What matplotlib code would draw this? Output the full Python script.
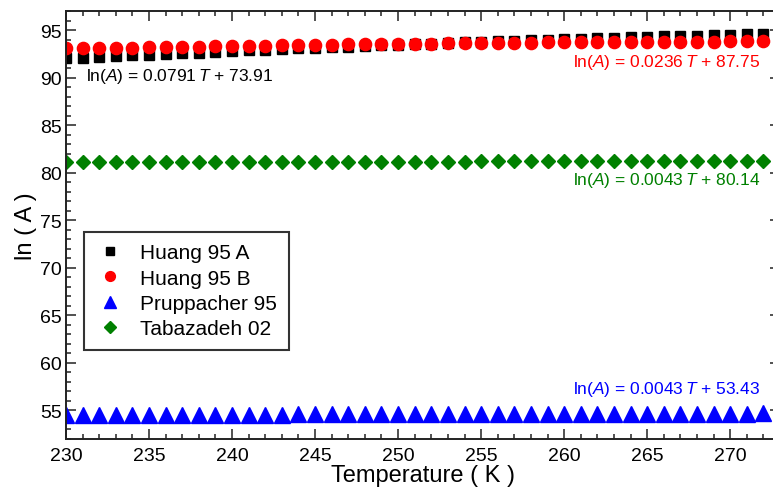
import matplotlib
matplotlib.use("Agg")
import matplotlib.pyplot as plt
from matplotlib.ticker import MultipleLocator

plt.rcParams['font.family'] = ['Liberation Sans', 'DejaVu Sans']
plt.rcParams['mathtext.fontset'] = 'custom'
plt.rcParams['mathtext.rm'] = 'Liberation Sans'
plt.rcParams['mathtext.it'] = 'Liberation Sans:italic'

temperature = list(range(230, 273))

huang_a = [92.03, 92.11, 92.18, 92.26, 92.33, 92.41, 92.48, 92.56, 92.63, 92.70,
           92.78, 92.85, 92.92, 92.99, 93.06, 93.13, 93.20, 93.26, 93.33, 93.39,
           93.46, 93.52, 93.58, 93.64, 93.70, 93.76, 93.82, 93.87, 93.93, 93.98,
           94.03, 94.08, 94.13, 94.18, 94.23, 94.27, 94.32, 94.36, 94.41, 94.45,
           94.49, 94.53, 94.57]

huang_b = [93.08, 93.09, 93.11, 93.12, 93.15, 93.18, 93.20, 93.23, 93.26, 93.29,
           93.31, 93.34, 93.37, 93.40, 93.42, 93.44, 93.46, 93.48, 93.50, 93.52,
           93.54, 93.56, 93.58, 93.60, 93.62, 93.63, 93.65, 93.66, 93.68, 93.69,
           93.70, 93.71, 93.72, 93.73, 93.74, 93.75, 93.76, 93.77, 93.78, 93.79,
           93.80, 93.81, 93.82]

pruppacher = [54.52, 54.52, 54.53, 54.53, 54.54, 54.54, 54.54, 54.55, 54.55, 54.56,
              54.56, 54.56, 54.57, 54.57, 54.58, 54.58, 54.58, 54.59, 54.59, 54.60,
              54.60, 54.60, 54.61, 54.61, 54.62, 54.62, 54.62, 54.63, 54.63, 54.64,
              54.64, 54.64, 54.65, 54.65, 54.66, 54.66, 54.66, 54.67, 54.67, 54.68,
              54.68, 54.68, 54.69]

tabazadeh = [81.10, 81.10, 81.11, 81.11, 81.11, 81.12, 81.12, 81.12, 81.13, 81.13,
             81.13, 81.13, 81.14, 81.14, 81.14, 81.15, 81.15, 81.15, 81.16, 81.16,
             81.16, 81.16, 81.17, 81.17, 81.17, 81.18, 81.18, 81.18, 81.19, 81.19,
             81.19, 81.19, 81.20, 81.20, 81.20, 81.21, 81.21, 81.21, 81.22, 81.22,
             81.22, 81.22, 81.23]

series_names = ["Huang 95 A", "Huang 95 B", "Pruppacher 95", "Tabazadeh 02"]
fit_labels = [r"ln($A$) = 0.0791$\,T$ + 73.91",
              r"ln($A$) = 0.0236$\,T$ + 87.75",
              r"ln($A$) = 0.0043$\,T$ + 53.43",
              r"ln($A$) = 0.0043$\,T$ + 80.14"]

fig = plt.figure(figsize=(7.73, 4.89), dpi=100)
ax = fig.add_axes([66/773, 1 - 440/489, 714/773, 428/489])

ax.plot(temperature, huang_a, linestyle='none', marker='s', ms=7.6,
        color='black', label=series_names[0])
ax.plot(temperature, huang_b, linestyle='none', marker='o', ms=8.8,
        color='#ff0000', label=series_names[1])
ax.plot(temperature, pruppacher, linestyle='none', marker='^', ms=11,
        color='#0000ff', label=series_names[2])
ax.plot(temperature, tabazadeh, linestyle='none', marker='D', ms=7.4,
        color='#008000', label=series_names[3])

ax.set_xlim(230, 273)
ax.set_ylim(52, 97)
ax.xaxis.set_major_locator(MultipleLocator(5))
ax.xaxis.set_minor_locator(MultipleLocator(1))
ax.yaxis.set_major_locator(MultipleLocator(5))
ax.yaxis.set_minor_locator(MultipleLocator(1))
ax.tick_params(which='both', direction='in', top=True, right=True,
               width=1.1, color='#222222')
ax.tick_params(which='major', length=7, labelsize=14, pad=6)
ax.tick_params(which='minor', length=3.8)
ax.tick_params(axis='y', which='major', pad=3)
for s in ax.spines.values():
    s.set_linewidth(1.4)
    s.set_color('#222222')

ax.set_xlabel("Temperature ( K )", fontsize=17, labelpad=0)
ax.set_ylabel("ln ( A )", fontsize=17, labelpad=2)

ax.text(231.2, 90.2, fit_labels[0], color='black', fontsize=12.5,
        ha='left', va='center')
ax.text(271.8, 91.7, fit_labels[1], color='#ff0000', fontsize=12.5,
        ha='right', va='center')
ax.text(271.8, 79.3, fit_labels[3], color='#008000', fontsize=12.5,
        ha='right', va='center')
ax.text(271.8, 57.3, fit_labels[2], color='#0000ff', fontsize=12.5,
        ha='right', va='center')

leg = ax.legend(loc='upper left', bbox_to_anchor=(18/714, 207/428),
                borderaxespad=0, fontsize=15, frameon=True, fancybox=False,
                edgecolor='black', handletextpad=0.8, handlelength=1.35,
                labelspacing=0.3, borderpad=0.55, markerscale=0.8)
leg.get_frame().set_linewidth(1.5)

fig.savefig("out.png", dpi=100)
